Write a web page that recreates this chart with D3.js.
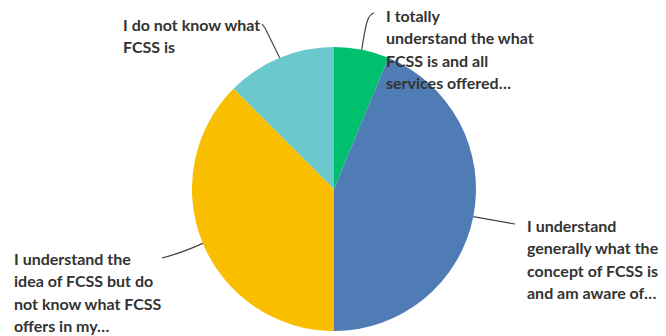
<!DOCTYPE html>
<html>
<head>
<meta charset="utf-8">
<script src="https://cdn.jsdelivr.net/npm/d3@7"></script>
<style>
  body { margin: 0; background: #fff; }
  .lbl { font-family: "Lato", sans-serif; font-weight: 700; font-size: 16px; fill: #333; }
</style>
</head>
<body>
<div id="chart"></div>
<script>
// answer options (wrapped as shown in the chart)
var categories = [
    ["I totally", "understand the what", "FCSS is and all", "services offered…"],
    ["I understand", "generally what the", "concept of FCSS is", "and am aware of…"],
    ["I understand the", "idea of FCSS but do", "not know what FCSS", "offers in my…"],
    ["I do not know what", "FCSS is"]
];
// responses per option
var values = [1, 7, 6, 2];
var colours = ["#00bf6f", "#507cb6", "#f9be00", "#6bc8cd"];

// label layout: text origin and leader end point
var labelPos = [
    { x: 386, y: 22, ex: 374, ey: 13 },
    { x: 527, y: 232, ex: 515, ey: 224 },
    { x: 14, y: 265, ex: 162, ey: 258 },
    { x: 123, y: 31, ex: 263, ey: 25 }
];

function init() {
    var width = 666, height = 336;
    var cx = 334, cy = 189, r = 142;

    var svg = d3.select("#chart")
        .append("svg")
        .attr("width", width)
        .attr("height", height);

    var pie = d3.pie().sort(null).value(d => d);
    var arcs = pie(values);
    var arc = d3.arc().innerRadius(0).outerRadius(r);

    var g = svg.append("g").attr("transform", `translate(${cx},${cy})`);

    g.selectAll("path")
        .data(arcs)
        .enter()
        .append("path")
        .attr("d", arc)
        .style("fill", (d, i) => colours[i]);

    // leader lines from the middle of each slice's edge
    svg.selectAll(".leader")
        .data(arcs)
        .enter()
        .append("path")
        .attr("class", "leader")
        .attr("d", (d, i) => {
            var a = (d.startAngle + d.endAngle) / 2;
            var sx = cx + r * Math.sin(a), sy = cy - r * Math.cos(a);
            var p = labelPos[i];
            var mx = sx + (p.ex - sx) * 0.55, my = sy + (p.ey - sy) * 0.55;
            if (i === 0) return `M${sx},${sy} C${sx + 4},${sy - 24} ${sx + 5},${p.ey + 2} ${p.ex},${p.ey}`;
            if (i === 3) return `M${sx},${sy} L${p.ex + 2},${p.ey + 3} L${p.ex - 1},${p.ey - 1}`;
            return `M${sx},${sy} Q${mx},${my + (i === 2 ? 2 : 0)} ${p.ex},${p.ey}`;
        })
        .attr("fill", "none")
        .attr("stroke", "#444")
        .attr("stroke-width", 1.2);

    // labels
    categories.forEach((lines, i) => {
        var t = svg.append("text")
            .attr("class", "lbl")
            .attr("x", labelPos[i].x)
            .attr("y", labelPos[i].y);
        lines.forEach((s, j) => {
            t.append("tspan")
                .attr("x", labelPos[i].x)
                .attr("dy", j === 0 ? 0 : 22.3)
                .text(s);
        });
    });
}

window.onload = init;
</script>
</body>
</html>
